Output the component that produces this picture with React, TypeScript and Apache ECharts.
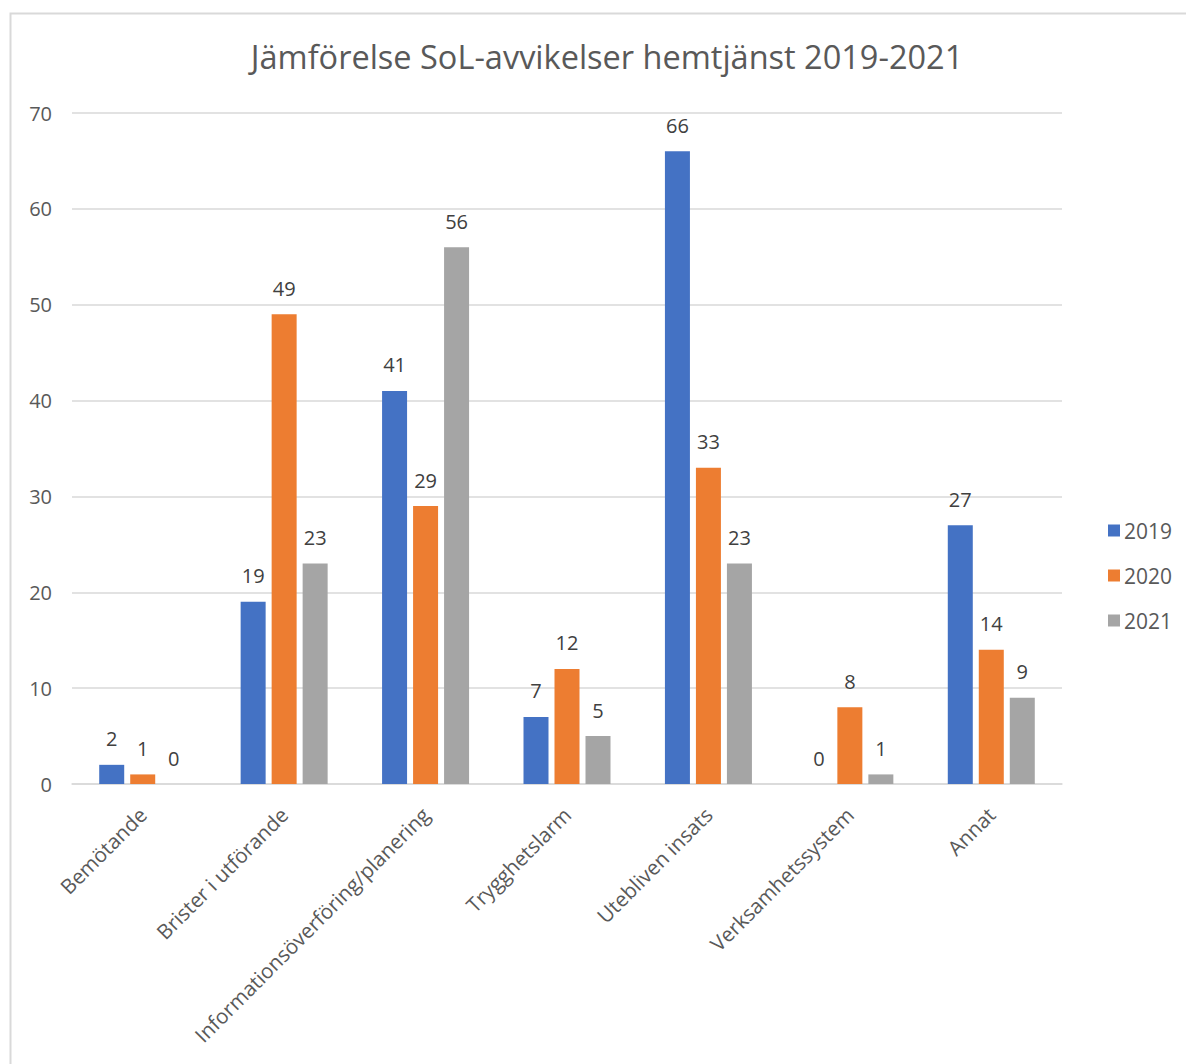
import React, { useEffect, useRef } from "react";
import * as echarts from "echarts";

const categories = [
  "Bemötande",
  "Brister i utförande",
  "Informationsöverföring/planering",
  "Trygghetslarm",
  "Utebliven insats",
  "Verksamhetssystem",
  "Annat",
];
const seriesNames = ["2019", "2020", "2021"];
const values2019 = [2, 19, 41, 7, 66, 0, 27];
const values2020 = [1, 49, 29, 12, 33, 8, 14];
const values2021 = [0, 23, 56, 5, 23, 1, 9];
const colors = ["#4472C4", "#ED7D31", "#A5A5A5"];
const yTicks = { min: 0, max: 70, interval: 10 };

const FONT = "'Open Sans', 'Noto Sans', sans-serif";

export default function App() {
  const ref = useRef<HTMLDivElement>(null);
  useEffect(() => {
    if (!ref.current) return;
    const chart = echarts.init(ref.current, null, { renderer: "svg" });
    const data = [values2019, values2020, values2021];
    chart.setOption({
      animation: false,
      backgroundColor: "#ffffff",
      textStyle: { fontFamily: FONT },
      graphic: [
        {
          type: "rect",
          shape: { x: 10.5, y: 13.5, width: 1300, height: 1200 },
          style: { fill: "none", stroke: "#d9d9d9", lineWidth: 2 },
          silent: true,
          z: -10,
        },
      ],
      title: {
        text: "Jämförelse SoL-avvikelser hemtjänst 2019-2021",
        left: 602,
        textAlign: "center",
        top: 35,
        textStyle: { fontFamily: FONT, fontSize: 32.5, fontWeight: "normal", color: "#595959" },
      },
      legend: {
        orient: "vertical",
        left: 1103,
        top: 515,
        itemWidth: 12,
        itemHeight: 12,
        itemGap: 24,
        icon: "rect",
        textStyle: { fontFamily: FONT, fontSize: 21, color: "#595959", padding: [0, 0, 0, -1] },
        data: seriesNames,
      },
      grid: { left: 72, right: 124, top: 113, bottom: 280, containLabel: false },
      xAxis: {
        type: "category",
        data: categories,
        axisLine: { lineStyle: { color: "#d9d9d9", width: 1.5 } },
        axisTick: { show: false },
        axisLabel: {
          rotate: 45,
          interval: 0,
          margin: 27,
          fontFamily: FONT,
          fontSize: 20.6,
          color: "#595959",
        },
      },
      yAxis: {
        type: "value",
        min: yTicks.min,
        max: yTicks.max,
        interval: yTicks.interval,
        axisLine: { show: false },
        axisTick: { show: false },
        splitLine: { lineStyle: { color: "#d9d9d9", width: 1.5 } },
        axisLabel: { fontFamily: FONT, fontSize: 20, color: "#595959", margin: 20 },
      },
      series: seriesNames.map((name, i) => ({
        name,
        type: "bar",
        data: data[i],
        barWidth: 25,
        barGap: "24%",
        itemStyle: { color: colors[i] },
        label: {
          show: true,
          position: "top",
          distance: 16,
          fontFamily: FONT,
          fontSize: 20,
          color: "#404040",
        },
      })),
    });
    return () => chart.dispose();
  }, []);
  return (
    <div
      ref={ref}
      style={{ position: "absolute", left: 0, top: 0, width: 1186, height: 1064 }}
    />
  );
}
